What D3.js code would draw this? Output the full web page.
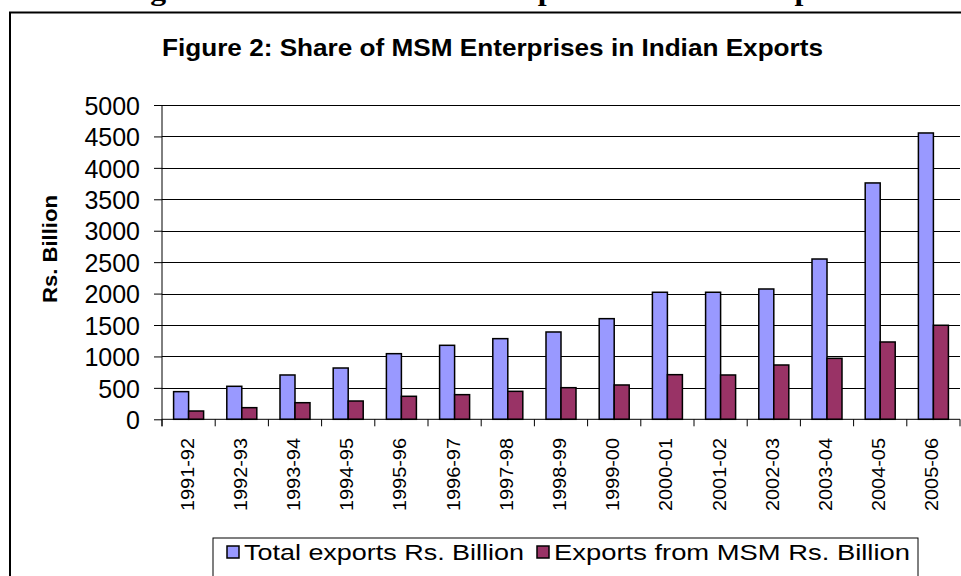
<!DOCTYPE html>
<html>
<head>
<meta charset="utf-8">
<script src="https://cdn.jsdelivr.net/npm/d3@7"></script>
<style>
  html, body { margin: 0; padding: 0; background: #fff; }
  svg { display: block; }
</style>
</head>
<body>
<script>
const categories = ["1991-92","1992-93","1993-94","1994-95","1995-96","1996-97","1997-98",
  "1998-99","1999-00","2000-01","2001-02","2002-03","2003-04","2004-05","2005-06"];
const totalExports = [440, 525, 705, 816, 1044, 1177, 1283, 1389, 1601, 2021, 2021, 2073, 2550, 3760, 4555];
const msmExports   = [132, 185, 264, 291, 366, 392, 445, 503, 546, 710, 705, 864, 970, 1230, 1496];
const seriesNames = ["Total exports Rs. Billion", "Exports from MSM Rs. Billion"];
const seriesColors = ["#9999FF", "#993366"];
const yTicks = [0, 500, 1000, 1500, 2000, 2500, 3000, 3500, 4000, 4500, 5000];
const chartTitle = "Figure 2: Share of MSM Enterprises in Indian Exports";
const yTitle = "Rs. Billion";

const W = 961, H = 576;
const svg = d3.select("body").append("svg").attr("width", W).attr("height", H);

// page heading cut at top (only descenders visible)
svg.append("text")
  .attr("x", 122).attr("y", 0)
  .attr("font-family", "'Liberation Serif','Times New Roman',serif")
  .attr("font-weight", "bold").attr("font-size", 28)
  .attr("textLength", 743).attr("lengthAdjust", "spacingAndGlyphs")
  .text(chartTitle);

// outer chart frame
svg.append("rect").attr("x", 10).attr("y", 12.5).attr("width", 1000).attr("height", 700)
  .attr("fill", "#fff").attr("stroke", "#000").attr("stroke-width", 2);

const plot = { left: 162, right: 960, top: 105, bottom: 419.3 };
const x0 = d3.scaleBand().domain(categories).range([plot.left, plot.right])
  .paddingInner(0.436).paddingOuter(0.218);
const x1 = d3.scaleBand().domain([0, 1]).range([0, x0.bandwidth()]);
const y = d3.scaleLinear().domain([0, 5000]).range([plot.bottom, plot.top]);

// gridlines
svg.append("g").selectAll("line").data(yTicks.filter(d => d > 0)).join("line")
  .attr("x1", plot.left).attr("x2", plot.right)
  .attr("y1", d => Math.round(y(d)) + 0.5).attr("y2", d => Math.round(y(d)) + 0.5)
  .attr("stroke", "#000").attr("stroke-width", 1);

// bars
const rows = categories.map((c, i) => ({ c, v: [totalExports[i], msmExports[i]] }));
const g = svg.append("g");
g.selectAll("g").data(rows).join("g")
  .attr("transform", d => `translate(${x0(d.c)},0)`)
  .selectAll("rect").data(d => d.v.map((v, k) => ({ v, k }))).join("rect")
  .attr("x", d => x1(d.k)).attr("width", x1.bandwidth())
  .attr("y", d => y(d.v)).attr("height", d => y(0) - y(d.v))
  .attr("fill", d => seriesColors[d.k]).attr("stroke", "#000").attr("stroke-width", 1.5);

// y axis
const yAxis = d3.axisLeft(y).tickValues(yTicks).tickFormat(d3.format("d")).tickSize(8).tickPadding(14);
const yg = svg.append("g").attr("transform", `translate(${plot.left},0)`).call(yAxis);
yg.select(".domain").remove();
yg.selectAll(".tick line").attr("stroke", "#000");
yg.selectAll(".tick text").attr("font-family", "'Liberation Sans',Arial,sans-serif")
  .attr("font-size", 25).attr("fill", "#000").attr("dy", "0.37em");
svg.append("line").attr("x1", plot.left).attr("x2", plot.left)
  .attr("y1", plot.top).attr("y2", plot.bottom + 7).attr("stroke", "#000");

// x axis
svg.append("line").attr("x1", plot.left).attr("x2", plot.right)
  .attr("y1", plot.bottom).attr("y2", plot.bottom).attr("stroke", "#000");
const step = x0.step();
svg.append("g").selectAll("line").data(d3.range(categories.length + 1)).join("line")
  .attr("x1", i => plot.left + i * step).attr("x2", i => plot.left + i * step)
  .attr("y1", plot.bottom).attr("y2", plot.bottom + 7).attr("stroke", "#000");
svg.append("g").selectAll("text").data(categories).join("text")
  .attr("transform", d => `translate(${x0(d) + x0.bandwidth() / 2 + 5},438) rotate(-90)`)
  .attr("text-anchor", "end")
  .attr("font-family", "'Liberation Sans',Arial,sans-serif").attr("font-size", 19)
  .attr("textLength", 73).attr("lengthAdjust", "spacingAndGlyphs")
  .text(d => d);

// title
svg.append("text").attr("x", 162).attr("y", 56)
  .attr("font-family", "'Liberation Sans',Arial,sans-serif").attr("font-weight", "bold")
  .attr("font-size", 23).attr("textLength", 661).attr("lengthAdjust", "spacingAndGlyphs")
  .text(chartTitle);

// y title
svg.append("text").attr("transform", "translate(57,249) rotate(-90)")
  .attr("text-anchor", "middle")
  .attr("font-family", "'Liberation Sans',Arial,sans-serif").attr("font-weight", "bold")
  .attr("font-size", 20).attr("textLength", 108).attr("lengthAdjust", "spacingAndGlyphs")
  .text(yTitle);

// legend
const lg = svg.append("g");
lg.append("rect").attr("x", 213).attr("y", 538).attr("width", 705).attr("height", 80)
  .attr("fill", "#fff").attr("stroke", "#000").attr("stroke-width", 1);
const legendItems = [
  { sx: 227, tx: 244, tl: 280 },
  { sx: 537, tx: 554, tl: 356 }
];
legendItems.forEach((it, k) => {
  lg.append("rect").attr("x", it.sx).attr("y", 546).attr("width", 12).attr("height", 12)
    .attr("fill", seriesColors[k]).attr("stroke", "#000").attr("stroke-width", 1.5);
  lg.append("text").attr("x", it.tx).attr("y", 560)
    .attr("font-family", "'Liberation Sans',Arial,sans-serif").attr("font-size", 22)
    .attr("textLength", it.tl).attr("lengthAdjust", "spacingAndGlyphs")
    .text(seriesNames[k]);
});
</script>
</body>
</html>
